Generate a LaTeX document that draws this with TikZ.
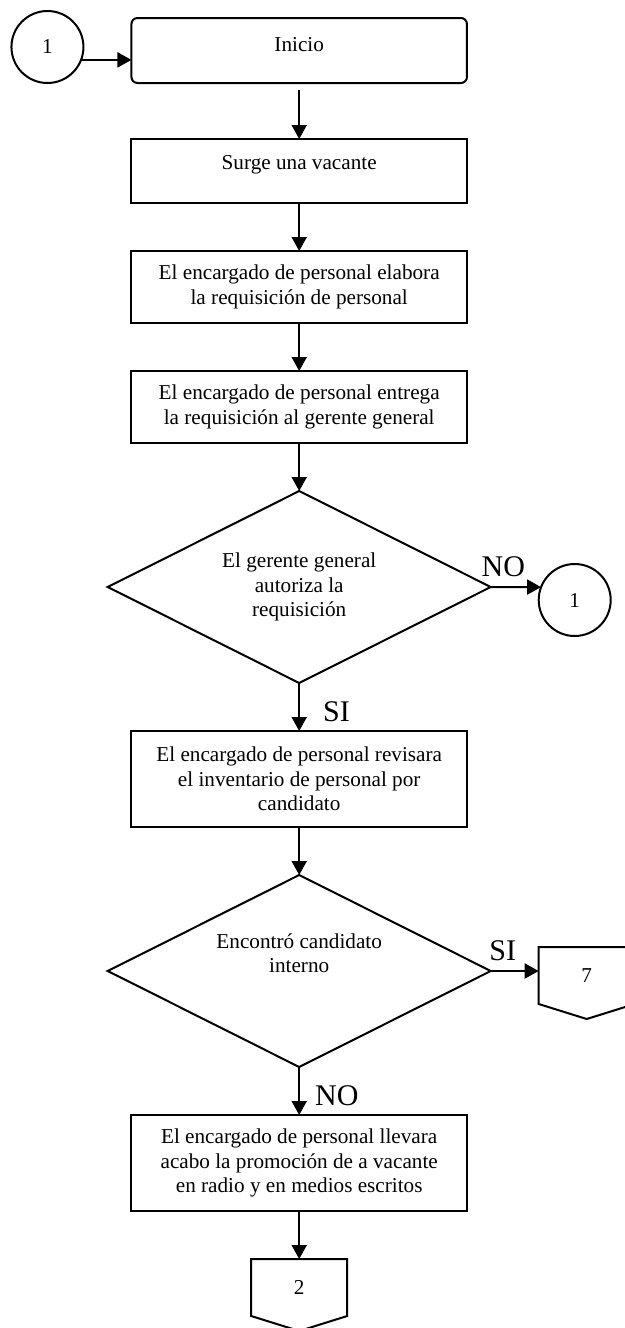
\documentclass[tikz,border=0pt]{standalone}
\usepackage{fontspec}
\setmainfont{Liberation Serif}
\usetikzlibrary{shapes.geometric, positioning, arrows.meta}

\begin{document}
\begin{tikzpicture}[
    % Same vertical gap between all blocks
    node distance=24pt,
    font=\fontsize{10.6pt}{12.3pt}\selectfont,
    box/.style={rectangle, draw, line width=1pt, outer sep=0pt, align=center, minimum width=167.75pt, minimum height=36pt},
    decision/.style={diamond, draw, line width=1pt, outer sep=0pt, align=center, aspect=2, minimum width=191.5pt, minimum height=96pt, inner sep=0pt},
    conn/.style={circle, draw, line width=1pt, outer sep=0pt, minimum size=36pt, inner sep=0pt},
    offpage/.style={rectangle, outer sep=0pt, minimum width=48pt, minimum height=28.5pt, inner sep=0pt},
    arrow/.style={-{Triangle[length=7pt, width=7.5pt]}, line width=1pt},
    lbl/.style={font=\fontsize{15pt}{18pt}\selectfont, inner sep=4.5pt}
]
    \useasboundingbox (0,0) rectangle (312.5pt,-664pt);

    \node[box, rounded corners=3pt, minimum height=32.5pt, text depth=6pt] (start) at (149.6pt,-25.25pt) {Inicio};
    \node[conn] (con1) [left=of start, yshift=1.75pt] {1};
    \node[box, minimum height=32pt, text depth=8.5pt] (vacante) [below=28pt of start] {Surge una vacante};
    \node[box] (elabora) [below=of vacante] {El encargado de personal elabora \\ la requisición de personal};
    \node[box] (entrega) [below=of elabora] {El encargado de personal entrega \\ la requisición al gerente general};
    \node[decision] (autoriza) [below=of entrega] {El gerente general \\ autoriza la \\ requisición};
    \node[conn] (con1b) [right=of autoriza, yshift=-6.5pt] {1};
    \node[box, minimum height=48pt] (revisa) [below=of autoriza] {El encargado de personal revisara \\ el inventario de personal por \\ candidato};
    \node[decision] (encontro) [below=of revisa] {Encontró candidato \\ interno \\[5.5pt] \mbox{}};
    \node[offpage] (pag7) [right=of encontro, yshift=-2.25pt] {7};
    \node[box, minimum height=48pt] (promocion) [below=of encontro] {El encargado de personal llevara \\ acabo la promoción de a vacante \\ en radio y en medios escritos};
    \node[offpage] (pag2) [below=of promocion] {2};

    % off-page connectors
    \draw[line width=1pt] (pag7.north west) -- (pag7.north east) -- (pag7.south east) -- ([yshift=-7.5pt]pag7.south) -- (pag7.south west) -- cycle;
    \draw[line width=1pt] (pag2.north west) -- (pag2.north east) -- (pag2.south east) -- ([yshift=-7.5pt]pag2.south) -- (pag2.south west) -- cycle;

    \draw[arrow] (con1.-21) -- (con1.-21 -| start.west);
    \draw[arrow, shorten <=3.5pt] (start) -- (vacante);
    \draw[arrow] (vacante) -- (elabora);
    \draw[arrow] (elabora) -- (entrega);
    \draw[arrow] (entrega) -- (autoriza);
    \draw[arrow] (autoriza.east) -- node[lbl, above, pos=0.25] (no1) {NO} (con1b.159);
    \draw[arrow] (autoriza.south) -- node[lbl, right, pos=0.6, xshift=7pt] (si1) {SI} (revisa.north);
    \draw[arrow] (revisa) -- (encontro);
    \draw[arrow] (encontro.east) -- node[lbl, above, pos=0.25] (si2) {SI} (encontro.east -| pag7.west);
    \draw[arrow] (encontro.south) -- node[lbl, right, pos=0.6, xshift=3pt] (no2) {NO} (promocion.north);
    \draw[arrow] (promocion) -- (pag2);
\end{tikzpicture}
\end{document}
